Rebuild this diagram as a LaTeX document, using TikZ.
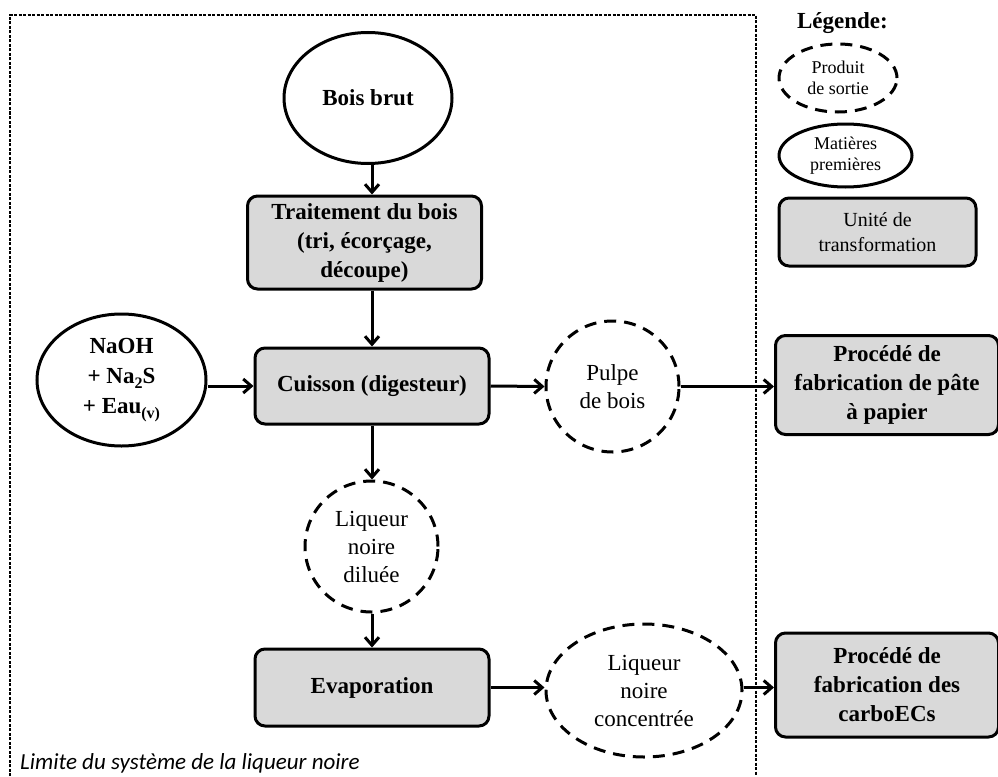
\documentclass[tikz,border=0pt]{standalone}
\usepackage{fontspec}
\setmainfont{Liberation Serif}
\newfontfamily\limfont{Carlito}
\usetikzlibrary{shapes.geometric,arrows.meta}
\definecolor{boxgray}{RGB}{217,217,217}
\newcommand{\mysub}[1]{\raisebox{-0.4ex}{\fontsize{16}{16}\selectfont #1}}
\tikzset{
  proc/.style={draw, line width=3pt, rounded corners=10pt, fill=boxgray, align=center,
    font=\bfseries\fontsize{23}{29}\selectfont, inner sep=0pt},
  rawmat/.style={draw, ellipse, line width=3pt, align=center, inner sep=0pt},
  outprod/.style={draw, ellipse, line width=3pt, dash pattern=on 12pt off 8pt, align=center, inner sep=0pt},
  flow/.style={line width=3pt, -{Straight Barb[length=8pt,width=14pt,line width=3pt]}},
  bigbold/.style={font=\bfseries\fontsize{23}{29}\selectfont},
  bigreg/.style={font=\fontsize{23}{28}\selectfont},
  smallreg/.style={font=\fontsize{18}{21}\selectfont},
  boundary/.style={line width=1.3pt, dash pattern=on 3pt off 1.5pt}
}
\begin{document}
\begin{tikzpicture}[x=1pt,y=-1pt]
\useasboundingbox (0,0) rectangle (998,776);
% system boundary
\coordinate (b1) at (10,776);
\coordinate (b2) at (10,15);
\coordinate (b3) at (756,15);
\coordinate (b4) at (756,776);
\draw[boundary] (b1) -- (b2) -- (b3) -- (b4);
\node[anchor=base west, inner sep=0pt, font=\limfont\itshape\fontsize{23}{28}\selectfont] (lim) at (20,769) {Limite du système de la liqueur noire};

% main nodes
\node[rawmat, bigbold, minimum width=168pt, minimum height=131pt] (bois) at (368,98) {Bois brut};
\node[proc, minimum width=234pt, minimum height=93pt] (trait) at (364.5,242.5) {Traitement du bois\\(tri, écorçage,\\découpe)};
\node[proc, minimum width=234pt, minimum height=76pt] (cuis) at (372,386) {Cuisson (digesteur)};
\node[rawmat, minimum width=169pt, minimum height=132pt, font=\bfseries\fontsize{23}{30}\selectfont] (naoh) at (121.5,380) {NaOH\\+ Na\mysub{2}S\\+ Eau\mysub{(v)}};
\node[outprod, bigreg, minimum width=133pt, minimum height=131pt] (pulpe) at (612.5,386.5) {Pulpe\\de bois};
\node[proc, minimum width=223pt, minimum height=99pt, anchor=west] (pate) at (774,385) {Procédé de\\fabrication de pâte\\à papier};
\node[outprod, bigreg, minimum width=133pt, minimum height=131pt] (dil) at (371.5,546.5) {Liqueur\\noire\\diluée};
\node[proc, minimum width=234pt, minimum height=77pt] (evap) at (372,687.5) {Evaporation};
\node[outprod, bigreg, minimum width=196pt, minimum height=133pt] (conc) at (644,690.5) {Liqueur\\noire\\concentrée};
\node[proc, minimum width=223pt, minimum height=104pt, anchor=west] (carbo) at (774,685) {Procédé de\\fabrication des\\carboECs};

% legend
\node[bigbold, inner sep=0pt] (leg) at (842.5,23) {Légende:};
\node[outprod, smallreg, minimum width=118pt, minimum height=68pt] (lgout) at (838,78) {Produit\\de sortie};
\node[rawmat, smallreg, minimum width=133pt, minimum height=63pt] (lgraw) at (845.5,155.5) {Matières\\premières};
\node[proc, font=\fontsize{20}{25}\selectfont, minimum width=197pt, minimum height=68pt] (lgproc) at (877.5,232) {Unité de\\transformation};

% flows
\draw[flow] (bois.south -| cuis.north) -- (trait.north -| cuis.north);
\draw[flow] (trait.south -| cuis.north) -- (cuis.north);
\draw[flow] (naoh.east |- cuis.west) -- (cuis.west);
\draw[flow] (cuis.east) -- (pulpe.west);
\draw[flow] (pulpe.east) -- (pate.west |- pulpe.east);
\draw[flow] (cuis.south) -- (dil.north -| cuis.south);
\draw[flow] (dil.south -| evap.north) -- (evap.north);
\draw[flow] (evap.east) -- (conc.west |- evap.east);
\draw[flow] (conc.east |- evap.east) -- (carbo.west |- evap.east);
\end{tikzpicture}
\end{document}
